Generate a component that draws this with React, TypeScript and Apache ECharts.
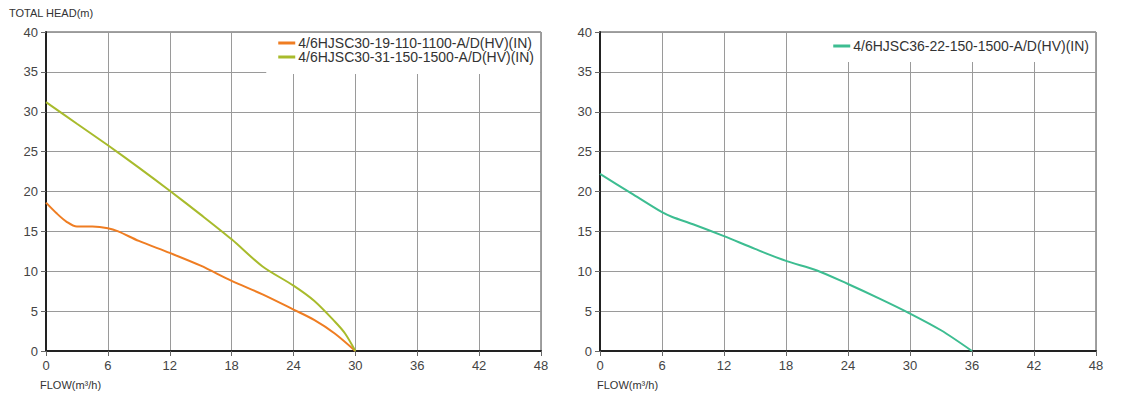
import React, { useEffect, useRef } from "react";
import * as echarts from "echarts";

const flowTicks = [0, 6, 12, 18, 24, 30, 36, 42, 48];
const headTicks = [0, 5, 10, 15, 20, 25, 30, 35, 40];

const seriesAName = "4/6HJSC30-19-110-1100-A/D(HV)(IN)";
const seriesA: [number, number][] = [
  [0, 18.6], [1, 17.3], [2, 16.2], [3, 15.6], [4.5, 15.6], [6, 15.4], [7, 15.0],
  [9, 13.8], [12, 12.3], [15, 10.7], [18, 8.8], [21, 7.1], [24, 5.2], [26, 3.9],
  [28, 2.2], [30, 0],
];

const seriesBName = "4/6HJSC30-31-150-1500-A/D(HV)(IN)";
const seriesB: [number, number][] = [
  [0, 31.2], [3, 28.5], [6, 25.8], [9, 23.0], [12, 20.1], [15, 17.1], [18, 14.0],
  [21, 10.6], [24, 8.2], [26, 6.3], [28, 3.7], [29, 2.2], [30, 0],
];

const seriesCName = "4/6HJSC36-22-150-1500-A/D(HV)(IN)";
const seriesC: [number, number][] = [
  [0, 22.2], [3, 19.8], [6, 17.4], [7, 16.8], [9, 15.9], [12, 14.4], [15, 12.8],
  [18, 11.3], [21, 10.1], [24, 8.4], [27, 6.6], [30, 4.7], [33, 2.6], [36, 0],
];

const FONT = "Liberation Sans";

export default function App() {
  const ref = useRef<HTMLDivElement>(null);
  useEffect(() => {
    if (!ref.current) return;
    const chart = echarts.init(ref.current, undefined, { renderer: "svg" });
    const xAxisBase = (gridIndex: number) => ({
      type: "value" as const,
      gridIndex,
      min: flowTicks[0],
      max: flowTicks[flowTicks.length - 1],
      interval: 6,
      axisLine: { show: true, onZero: false, lineStyle: { color: "#222", width: 2 } },
      axisTick: { show: true, length: 5, lineStyle: { color: "#666" } },
      axisLabel: { color: "#444", fontSize: 13, fontFamily: FONT, margin: 8 },
      splitLine: { show: true, lineStyle: { color: "#9a9a9a", width: 1 } },
    });
    const yAxisBase = (gridIndex: number) => ({
      type: "value" as const,
      gridIndex,
      min: headTicks[0],
      max: headTicks[headTicks.length - 1],
      interval: 5,
      axisLine: { show: true, onZero: false, lineStyle: { color: "#222", width: 2 } },
      axisTick: { show: true, length: 5, lineStyle: { color: "#666" } },
      axisLabel: { color: "#444", fontSize: 13, fontFamily: FONT, margin: 8 },
      splitLine: { show: true, lineStyle: { color: "#9a9a9a", width: 1 } },
    });
    const legendBase = {
      orient: "vertical" as const,
      backgroundColor: "#fff",
      icon: "rect",
      itemWidth: 17,
      itemHeight: 3,
      itemGap: 0,
      textStyle: { color: "#333", fontSize: 14, fontFamily: FONT, padding: [0, 0, 0, -2] },
    };
    chart.setOption({
      animation: false,
      backgroundColor: "#fff",
      textStyle: { fontFamily: FONT },
      grid: [
        { left: 46, right: 583, top: 32, bottom: 46, show: true, borderColor: "#444", borderWidth: 1 },
        { left: 600, right: 28, top: 32, bottom: 46, show: true, borderColor: "#444", borderWidth: 1 },
      ],
      xAxis: [xAxisBase(0), xAxisBase(1)],
      yAxis: [yAxisBase(0), yAxisBase(1)],
      legend: [
        { ...legendBase, data: [seriesAName, seriesBName], right: 584, top: 33, padding: [3, 6, 10, 12] },
        { ...legendBase, data: [seriesCName], right: 29, top: 33, padding: [6, 6, 9, 12] },
      ],
      graphic: [
        { type: "text", left: 9, top: 7, style: { text: "TOTAL HEAD(m)", fill: "#333", font: `11px ${FONT}` } },
        { type: "text", left: 40, top: 379, style: { text: "FLOW(m³/h)", fill: "#333", font: `11px ${FONT}` } },
        { type: "text", left: 597, top: 379, style: { text: "FLOW(m³/h)", fill: "#333", font: `11px ${FONT}` } },
      ],
      series: [
        {
          name: seriesAName, type: "line", xAxisIndex: 0, yAxisIndex: 0, data: seriesA,
          smooth: 0.3, showSymbol: false, lineStyle: { color: "#ef7d22", width: 2 }, itemStyle: { color: "#ef7d22" },
        },
        {
          name: seriesBName, type: "line", xAxisIndex: 0, yAxisIndex: 0, data: seriesB,
          smooth: 0.3, showSymbol: false, lineStyle: { color: "#a8bb2c", width: 2 }, itemStyle: { color: "#a8bb2c" },
        },
        {
          name: seriesCName, type: "line", xAxisIndex: 1, yAxisIndex: 1, data: seriesC,
          smooth: 0.3, showSymbol: false, lineStyle: { color: "#3dbd91", width: 2 }, itemStyle: { color: "#3dbd91" },
        },
      ],
    });
    return () => chart.dispose();
  }, []);
  return (
    <div
      ref={ref}
      style={{ position: "fixed", left: 0, top: 0, width: 1124, height: 397, background: "#fff" }}
    />
  );
}
